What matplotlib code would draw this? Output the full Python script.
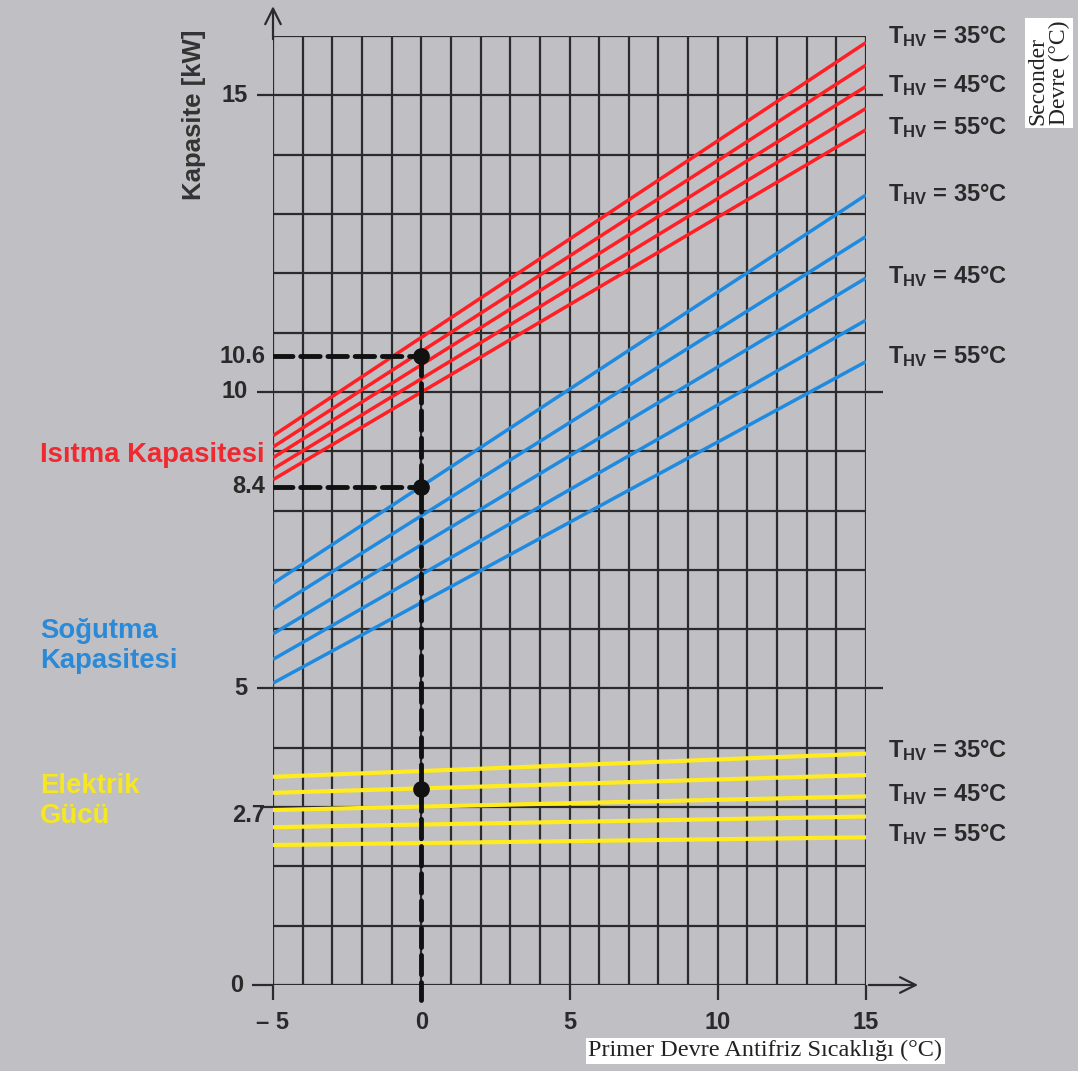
"""Heat pump capacity chart: heating / cooling capacity and electric power
versus primary circuit antifreeze temperature, for three secondary
circuit supply temperatures (T_HV = 35 / 45 / 55 °C).
"""

import matplotlib.pyplot as plt

# primary circuit temperature at both ends of every curve (°C)
TEMP_ENDS = [-5, 15]

# capacity (kW) at -5 °C and at 15 °C, five curves per group (top to bottom)
HEATING = [[9.26, 15.89], [9.07, 15.51], [8.89, 15.15], [8.70, 14.78], [8.52, 14.42]]
COOLING = [[6.77, 13.32], [6.34, 12.62], [5.92, 11.92], [5.49, 11.21], [5.09, 10.51]]
ELECTRIC = [[3.51, 3.90], [3.24, 3.54], [2.95, 3.18], [2.66, 2.84], [2.36, 2.49]]

# reading example at 0 °C
READ_X = 0
READ_HEAT = 10.6
READ_COOL = 8.4
READ_ELEC = 3.3

X_TICKS = [-5, 0, 5, 10, 15]
X_TICK_LABELS = ['– 5', '0', '5', '10', '15']
Y_TICKS = [0, 5, 10, 15]
Y_MAX = 16

THV_LABELS = ['T$_{HV}$ = 35°C', 'T$_{HV}$ = 45°C', 'T$_{HV}$ = 55°C']

BG = '#c0c0c4'
GRID = '#2b2b2b'
RED = '#ff1f24'
BLUE = '#1f8be0'
YELLOW = '#ffeb1e'
INK = '#2a2a2a'

plt.rcParams['font.family'] = ['Liberation Sans', 'DejaVu Sans']
plt.rcParams['font.weight'] = 'bold'
plt.rcParams['mathtext.fontset'] = 'custom'
plt.rcParams['mathtext.rm'] = 'Liberation Sans:bold'
plt.rcParams['mathtext.it'] = 'Liberation Sans:bold'
plt.rcParams['mathtext.bf'] = 'Liberation Sans:bold'

fig = plt.figure(figsize=(10.78, 10.71), dpi=100, facecolor=BG)
ax = fig.add_axes([273 / 1078, 86 / 1071, 593 / 1078, 949 / 1071])
ax.set_xlim(TEMP_ENDS)
ax.set_ylim(0, Y_MAX)
ax.axis('off')

# grid
ax.vlines(range(-5, 16), 0, Y_MAX, color=GRID, lw=1.6, zorder=1)
ax.hlines(range(0, Y_MAX + 1), -5, 15, color=GRID, lw=1.6, zorder=1)
# tick stubs outside the grid
ax.vlines([t for t in X_TICKS if t != 0], -0.25, 0, color=GRID, lw=1.6, clip_on=False)
ax.hlines([5, 10, 15], -5.54, -5, color=GRID, lw=1.6, clip_on=False)
ax.hlines([5, 10, 15], 15, 15.57, color=GRID, lw=1.6, clip_on=False)
ax.hlines(3, -5.45, -5, color=GRID, lw=1.6, clip_on=False)
ax.hlines(0, -5.7, -5, color=GRID, lw=1.6, clip_on=False)

# axis arrows
arrow = dict(arrowstyle='->', lw=1.6, color=GRID, mutation_scale=28)
ax.annotate('', xy=(16.85, 0), xytext=(15, 0), arrowprops=arrow, annotation_clip=False)
ax.annotate('', xy=(-5, 16.55), xytext=(-5, 15.9), arrowprops=arrow, annotation_clip=False)

# curves
for ends in HEATING:
    ax.plot(TEMP_ENDS, ends, color=RED, lw=2.5, zorder=3, solid_capstyle='butt')
for ends in COOLING:
    ax.plot(TEMP_ENDS, ends, color=BLUE, lw=2.5, zorder=3, solid_capstyle='butt')
for ends in ELECTRIC:
    ax.plot(TEMP_ENDS, ends, color=YELLOW, lw=3.0, zorder=3, solid_capstyle='butt')

# reading example
dash = dict(color='#111111', lw=3.5, dashes=(4, 1.6), dash_capstyle='round', zorder=4)
ax.plot([-5, READ_X], [READ_HEAT, READ_HEAT], **dash)
ax.plot([-5, READ_X], [READ_COOL, READ_COOL], **dash)
ax.plot([READ_X, READ_X], [READ_HEAT, -0.25], clip_on=False, **dash)
ax.plot([READ_X] * 3, [READ_HEAT, READ_COOL, READ_ELEC], 'o', color='#111111',
        ms=11, zorder=5)

# tick labels
for x, lab in zip(X_TICKS, X_TICK_LABELS):
    ax.text(x, -0.64, lab, ha='center', va='center', fontsize=17, color=INK)
for y in Y_TICKS:
    ax.text(-5.85 if y else -6.0, y, str(y), ha='right', va='center', fontsize=17, color=INK)
for y, lab in [(READ_HEAT, '10.6'), (READ_COOL, '8.4'), (2.85, '2.7')]:
    ax.text(-5.25, y, lab, ha='right', va='center', fontsize=17, color=INK)

ax.text(-7.66, 14.67, 'Kapasite [kW]', rotation=90, ha='center', va='center',
        fontsize=18.5, color='#333333')

# group labels on the left
ax.text(-12.85, 8.94, 'Isıtma Kapasitesi', ha='left', va='center', fontsize=19.8, color='#ee2a30')
ax.text(-12.85, 5.72, 'Soğutma\nKapasitesi', ha='left', va='center', fontsize=19.8,
        color='#2a8ad8', linespacing=1.2)
ax.text(-12.85, 3.1, 'Elektrik\nGücü', ha='left', va='center', fontsize=19.8,
        color='#f5e722', linespacing=1.2)

# T_HV labels on the right
for ys in ([16.0, 15.17, 14.47], [13.33, 11.96, 10.61], [3.96, 3.22, 2.54]):
    for y, lab in zip(ys, THV_LABELS):
        ax.text(15.74, y, lab, ha='left', va='center', fontsize=17, color=INK)

# boxed captions
ax.text(21.17, 15.38, 'Seconder\nDevre (°C)', rotation=90, ha='center', va='center',
        multialignment='left', family='Liberation Serif', weight='normal', fontsize=17,
        color='#222222', linespacing=1.0,
        bbox=dict(facecolor='white', edgecolor='none', pad=2))
ax.text(11.61, -1.11, 'Primer Devre Antifriz Sıcaklığı (°C)', ha='center', va='center',
        family='Liberation Serif', weight='normal', fontsize=17.5, color='#222222',
        bbox=dict(facecolor='white', edgecolor='none', pad=2))

fig.savefig('out.png', dpi=100, facecolor=BG)
